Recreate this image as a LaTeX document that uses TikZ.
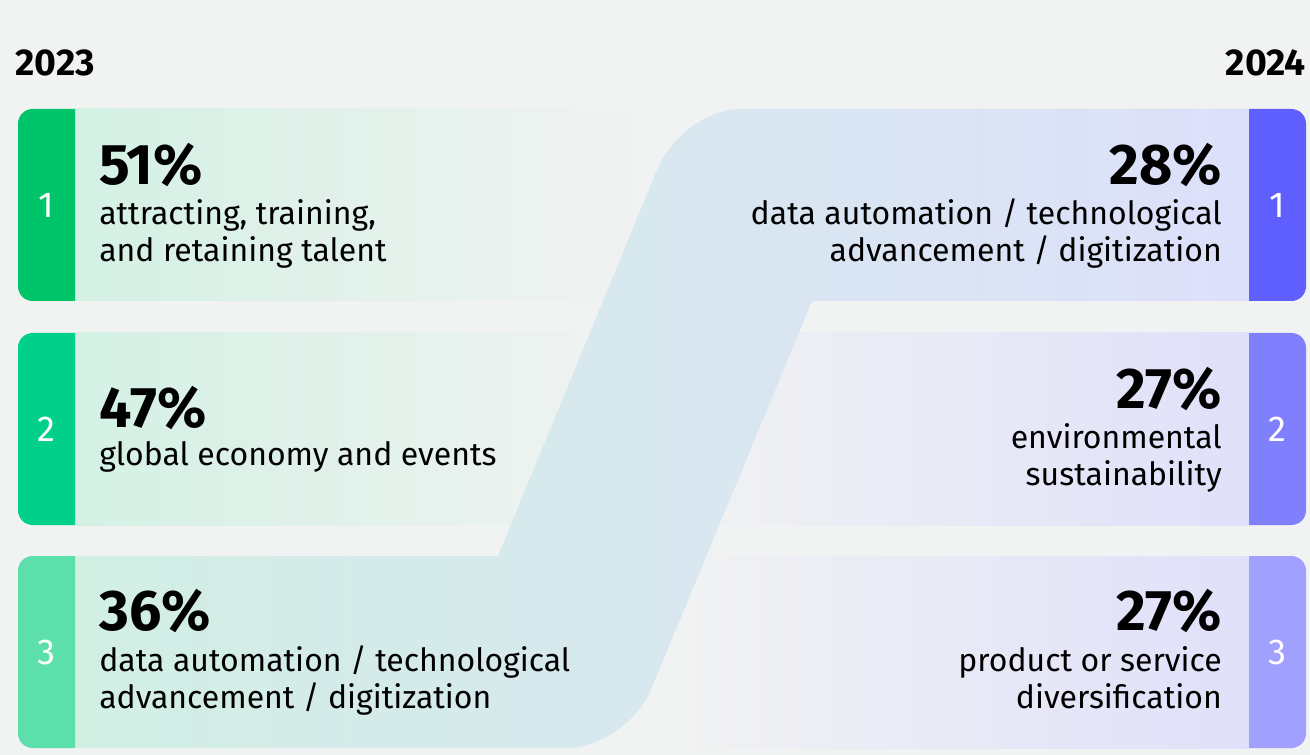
\documentclass[tikz,border=0pt]{standalone}
\usepackage{fontspec}
\setmainfont{Fira Sans}
\usetikzlibrary{positioning}

\definecolor{pagebg}{HTML}{F1F2F2}
\definecolor{leftcard}{HTML}{D4F1E4}
\definecolor{rightcard}{HTML}{E0E0FA}
\definecolor{bandleft}{HTML}{D2EFE4}
\definecolor{bandright}{HTML}{DDE0FA}
\definecolor{greenA}{HTML}{00C46A}
\definecolor{greenB}{HTML}{00D08A}
\definecolor{greenC}{HTML}{5DDFAB}
\definecolor{blueA}{HTML}{5F5FFF}
\definecolor{blueB}{HTML}{8080FF}
\definecolor{blueC}{HTML}{A0A0FF}

\tikzset{
  pct/.style={inner sep=0pt, font=\fontsize{43}{43}\selectfont\bfseries},
  desc/.style={inner sep=0pt, font=\fontsize{24}{27.75}\selectfont},
  num/.style={inner sep=0pt, text=white, font=\fontsize{27}{27}\selectfont},
  yearlabel/.style={inner sep=0pt, font=\fontsize{28}{28}\selectfont\bfseries},
}

\begin{document}
\begin{tikzpicture}[x=0.75pt, y=-0.75pt]
            \fill[pagebg] (0,0) rectangle (1310,755);
            \useasboundingbox (0,0) rectangle (1310,755);

            % 2023 cards
            \shade[left color=leftcard, right color=pagebg] (75,109) rectangle (640,301);
            \shade[left color=leftcard, right color=pagebg] (75,333) rectangle (640,525);

            % 2024 cards
            \shade[left color=pagebg, right color=rightcard] (680,333) rectangle (1249,525);
            \shade[left color=pagebg, right color=rightcard] (680,556) rectangle (1249,748);

            % band from 2023 no. 3 to 2024 no. 1
            \shade[left color=bandleft, right color=bandright] (75,556) -- (498,556) -- (657,170)
                .. controls (670.75,136.5) and (708,109) .. (740,109) -- (1249,109) -- (1249,301)
                -- (812,301) -- (652,687) .. controls (640,720) and (600.5,748) .. (567,748)
                -- (75,748) -- cycle;

            % rank bars
            \foreach \top/\col/\n in {109/greenA/1, 333/greenB/2, 556/greenC/3} {
                \begin{scope}
                    \clip (18,\top) rectangle (75,\top+192);
                    \fill[\col, rounded corners=11pt] (18,\top) rectangle (100,\top+192);
                \end{scope}
                \node[num] (l\n) at (46.5,\top+96) {\n};
            }
            \foreach \top/\col/\n in {109/blueA/1, 333/blueB/2, 556/blueC/3} {
                \begin{scope}
                    \clip (1249,\top) rectangle (1306,\top+192);
                    \fill[\col, rounded corners=11pt] (1220,\top) rectangle (1306,\top+192);
                \end{scope}
                \node[num] (r\n) at (1277.5,\top+96) {\n};
            }

            % years
            \node[yearlabel, anchor=base west] (y2023) at (15,76) {2023};
            \node[yearlabel, anchor=base east] (y2024) at (1306,76) {2024};

            % 2023 texts (base of a two-line node is its last line)
            \node[pct, anchor=base west] (lp1) at (99,185) {51\%};
            \node[desc, align=left, anchor=base west] (ld1) at ([shift={(0,77)}]lp1.base west) {attracting, training,\\and retaining talent};
            \node[pct, anchor=base west] (lp2) at (99,427) {47\%};
            \node[desc, align=left, anchor=base west] (ld2) at ([shift={(0,38)}]lp2.base west) {global economy and events};
            \node[pct, anchor=base west] (lp3) at (99,630) {36\%};
            \node[desc, align=left, anchor=base west] (ld3) at ([shift={(0,78)}]lp3.base west) {data automation / technological\\advancement / digitization};

            % 2024 texts
            \node[pct, anchor=base east] (rp1) at (1222,185) {28\%};
            \node[desc, align=right, anchor=base east] (rd1) at ([shift={(0,77)}]rp1.base east) {data automation / technological\\advancement / digitization};
            \node[pct, anchor=base east] (rp2) at (1222,408) {27\%};
            \node[desc, align=right, anchor=base east] (rd2) at ([shift={(0,77)}]rp2.base east) {environmental\\sustainability};
            \node[pct, anchor=base east] (rp3) at (1222,630) {27\%};
            \node[desc, align=right, anchor=base east] (rd3) at ([shift={(0,78)}]rp3.base east) {product or service\\diversification};
\end{tikzpicture}
\end{document}
